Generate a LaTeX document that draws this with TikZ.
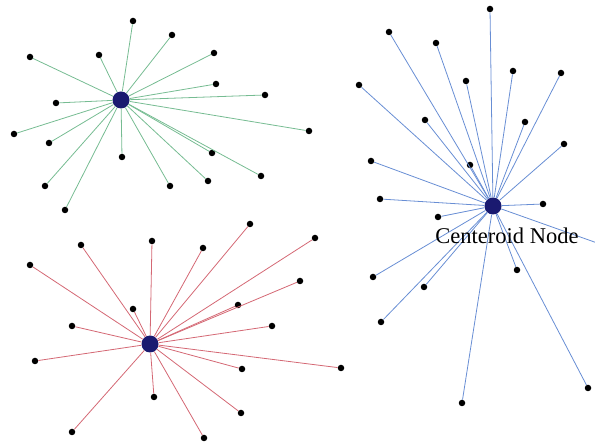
\documentclass[tikz,border=0pt]{standalone}
\usepackage{fontspec}
\setmainfont{Liberation Serif}
\definecolor{hubblue}{RGB}{26,26,112}
\definecolor{gline}{RGB}{118,188,146}
\definecolor{rline}{RGB}{212,104,116}
\definecolor{bline}{RGB}{104,142,212}
\begin{document}
\begin{tikzpicture}[x=1pt, y=-1pt, every node/.style={shape=circle,inner sep=0pt},
                  leaf/.style={fill=black,minimum size=6.5pt},
                  hub/.style={fill=hubblue,minimum size=17pt},
                  gedge/.style={gline,line width=.8pt},
                  redge/.style={rline,line width=.8pt},
                  bedge/.style={bline,line width=.8pt}]
                  \useasboundingbox (0,0) rectangle (595,443);
                  % green star
                  \node[hub] (gz) at (121,100) {};
                  \node[leaf] (ga) at (133,21) {};
                  \node[leaf] (gb) at (172,35) {};
                  \node[leaf] (gc) at (214,53) {};
                  \node[leaf] (gd) at (216,84) {};
                  \node[leaf] (ge) at (265,95) {};
                  \node[leaf] (gf) at (309,131) {};
                  \node[leaf] (gg) at (99,55) {};
                  \node[leaf] (gh) at (30,57) {};
                  \node[leaf] (gi) at (56,103) {};
                  \node[leaf] (gj) at (14,134) {};
                  \node[leaf] (gk) at (49,143) {};
                  \node[leaf] (gl) at (122,157) {};
                  \node[leaf] (gm) at (45,186) {};
                  \node[leaf] (gn) at (65,210) {};
                  \node[leaf] (go) at (170,186) {};
                  \node[leaf] (gp) at (208,181) {};
                  \node[leaf] (gq) at (212,153) {};
                  \node[leaf] (gr) at (261,176) {};
                  \draw[gedge] (gz) -- (ga);
                  \draw[gedge] (gz) -- (gb);
                  \draw[gedge] (gz) -- (gc);
                  \draw[gedge] (gz) -- (gd);
                  \draw[gedge] (gz) -- (ge);
                  \draw[gedge] (gz) -- (gf);
                  \draw[gedge] (gz) -- (gg);
                  \draw[gedge] (gz) -- (gh);
                  \draw[gedge] (gz) -- (gi);
                  \draw[gedge] (gz) -- (gj);
                  \draw[gedge] (gz) -- (gk);
                  \draw[gedge] (gz) -- (gl);
                  \draw[gedge] (gz) -- (gm);
                  \draw[gedge] (gz) -- (gn);
                  \draw[gedge] (gz) -- (go);
                  \draw[gedge] (gz) -- (gp);
                  \draw[gedge] (gz) -- (gq);
                  \draw[gedge] (gz) -- (gr);
                  % red star
                  \node[hub] (rz) at (150,344) {};
                  \node[leaf] (ra) at (250,224) {};
                  \node[leaf] (rb) at (315,238) {};
                  \node[leaf] (rc) at (152,241) {};
                  \node[leaf] (rd) at (203,248) {};
                  \node[leaf] (re) at (81,245) {};
                  \node[leaf] (rf) at (30,265) {};
                  \node[leaf] (rg) at (300,281) {};
                  \node[leaf] (rh) at (238,305) {};
                  \node[leaf] (ri) at (133,309) {};
                  \node[leaf] (rj) at (72,326) {};
                  \node[leaf] (rk) at (272,326) {};
                  \node[leaf] (rl) at (35,361) {};
                  \node[leaf] (rm) at (341,368) {};
                  \node[leaf] (rn) at (242,369) {};
                  \node[leaf] (ro) at (154,397) {};
                  \node[leaf] (rp) at (241,413) {};
                  \node[leaf] (rq) at (72,432) {};
                  \node[leaf] (rr) at (204,438) {};
                  \draw[redge] (rz) -- (ra);
                  \draw[redge] (rz) -- (rb);
                  \draw[redge] (rz) -- (rc);
                  \draw[redge] (rz) -- (rd);
                  \draw[redge] (rz) -- (re);
                  \draw[redge] (rz) -- (rf);
                  \draw[redge] (rz) -- (rg);
                  \draw[redge] (rz) -- (rh);
                  \draw[redge] (rz) -- (ri);
                  \draw[redge] (rz) -- (rj);
                  \draw[redge] (rz) -- (rk);
                  \draw[redge] (rz) -- (rl);
                  \draw[redge] (rz) -- (rm);
                  \draw[redge] (rz) -- (rn);
                  \draw[redge] (rz) -- (ro);
                  \draw[redge] (rz) -- (rp);
                  \draw[redge] (rz) -- (rq);
                  \draw[redge] (rz) -- (rr);
                  % blue star
                  \node[hub] (bz) at (493,206) {};
                  \node[leaf] (ba) at (490,9) {};
                  \node[leaf] (bb) at (389,32) {};
                  \node[leaf] (bc) at (436,43) {};
                  \node[leaf] (bd) at (359,85) {};
                  \node[leaf] (be) at (466,81) {};
                  \node[leaf] (bf) at (513,71) {};
                  \node[leaf] (bg) at (561,73) {};
                  \node[leaf] (bh) at (425,120) {};
                  \node[leaf] (bi) at (525,122) {};
                  \node[leaf] (bj) at (564,144) {};
                  \node[leaf] (bk) at (371,161) {};
                  \node[leaf] (bl) at (470,165) {};
                  \node[leaf] (bm) at (380,199) {};
                  \node[leaf] (bn) at (543,204) {};
                  \node[leaf] (bo) at (438,217) {};
                  \node[leaf] (bp) at (373,277) {};
                  \node[leaf] (bq) at (424,287) {};
                  \node[leaf] (br) at (381,322) {};
                  \node[leaf] (bs) at (517,270) {};
                  \node[leaf] (bt) at (462,403) {};
                  \node[leaf] (bu) at (588,388) {};
                  \coordinate (bv) at (600,244);
                  \draw[bedge] (bz) -- (ba);
                  \draw[bedge] (bz) -- (bb);
                  \draw[bedge] (bz) -- (bc);
                  \draw[bedge] (bz) -- (bd);
                  \draw[bedge] (bz) -- (be);
                  \draw[bedge] (bz) -- (bf);
                  \draw[bedge] (bz) -- (bg);
                  \draw[bedge] (bz) -- (bh);
                  \draw[bedge] (bz) -- (bi);
                  \draw[bedge] (bz) -- (bj);
                  \draw[bedge] (bz) -- (bk);
                  \draw[bedge] (bz) -- (bl);
                  \draw[bedge] (bz) -- (bm);
                  \draw[bedge] (bz) -- (bn);
                  \draw[bedge] (bz) -- (bo);
                  \draw[bedge] (bz) -- (bp);
                  \draw[bedge] (bz) -- (bq);
                  \draw[bedge] (bz) -- (br);
                  \draw[bedge] (bz) -- (bs);
                  \draw[bedge] (bz) -- (bt);
                  \draw[bedge] (bz) -- (bu);
                  \draw[bedge] (bz) -- (bv);
                  \node[shape=rectangle,font=\fontsize{22.5}{26}\selectfont,text=black] (lbl) at (507,236) {Centeroid Node};
              \end{tikzpicture}
\end{document}
